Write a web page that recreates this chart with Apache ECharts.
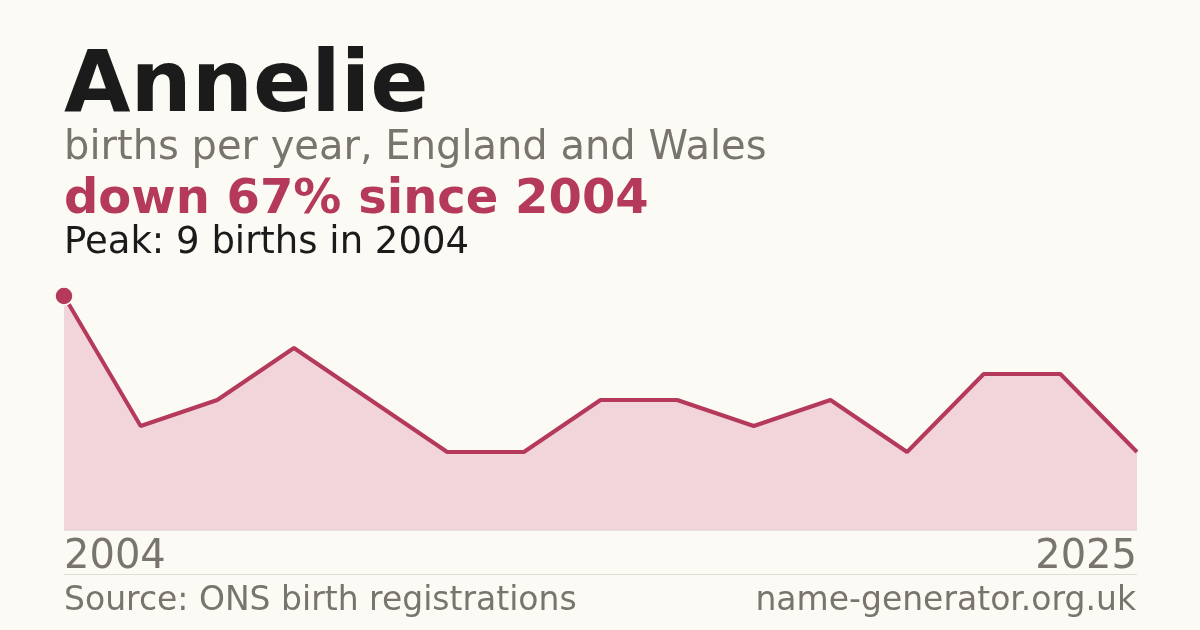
<!DOCTYPE html>
<html><head><meta charset="utf-8">
<script src="https://cdn.jsdelivr.net/npm/echarts@6/dist/echarts.min.js"></script>
<style>html,body{margin:0;padding:0;background:#fbfaf5}#c{width:1200px;height:630px}</style>
</head><body><div id="c"></div>
<script>
const years = ['2004','2005','2006','2007','2008','2010','2011','2013','2015','2016','2017','2019','2021','2022','2025'];
const births = [9,4,5,7,5,3,3,5,5,4,5,3,6,6,3];
const titleText = 'Annelie';
const subtitleText = 'births per year, England and Wales';
const changeText = 'down 67% since 2004';
const peakText = 'Peak: 9 births in 2004';
const sourceText = 'Source: ONS birth registrations';
const siteText = 'name-generator.org.uk';

const F = '"DejaVu Sans", sans-serif';
const RED = '#b5395a';
const GRAY = '#79746d';
const chart = echarts.init(document.getElementById('c'));
chart.setOption({
  backgroundColor: '#fbfaf5',
  animation: false,
  grid: {left: 64, right: 63, top: 296, bottom: 100},
  xAxis: {
    type: 'category', data: years, boundaryGap: false,
    axisLine: {show: true, lineStyle: {color: '#e4e0d8', width: 1}},
    axisTick: {show: false},
    splitLine: {show: false},
    axisLabel: {
      show: true, margin: 8, fontFamily: F, fontSize: 40, color: GRAY,
      interval: (i) => i === 0 || i === years.length - 1,
      alignMinLabel: 'left', alignMaxLabel: 'right'
    }
  },
  yAxis: {type: 'value', min: 0, max: 9, show: false, splitLine: {show: false}},
  series: [{
    type: 'line', data: births.map((v, i) => i === 0 ? {value: v, symbol: 'circle', symbolSize: 18} : v),
    showSymbol: true, symbol: 'none',
    itemStyle: {color: RED, borderColor: '#fbfaf5', borderWidth: 1.5},
    lineStyle: {color: RED, width: 4},
    areaStyle: {color: '#f2d5db', opacity: 1},
    z: 3
  }],
  graphic: [
    {type: 'text', left: 64, top: 46, style: {text: titleText, font: 'bold 86px ' + F, fill: '#1b1b1b'}},
    {type: 'text', left: 64, top: 129, style: {text: subtitleText, font: '40px ' + F, fill: GRAY}},
    {type: 'text', left: 64, top: 177, style: {text: changeText, font: 'bold 48px ' + F, fill: RED}},
    {type: 'text', left: 64, top: 225, style: {text: peakText, font: '37px ' + F, fill: '#1b1b1b'}},
    {type: 'line', shape: {x1: 64, y1: 574.5, x2: 1137, y2: 574.5}, style: {stroke: '#e0ddd5', lineWidth: 1}},
    {type: 'text', left: 64, top: 585, style: {text: sourceText, font: '33px ' + F, fill: GRAY}},
    {type: 'text', right: 64, top: 585, style: {text: siteText, font: '33px ' + F, fill: GRAY}}
  ]
});
</script></body></html>
